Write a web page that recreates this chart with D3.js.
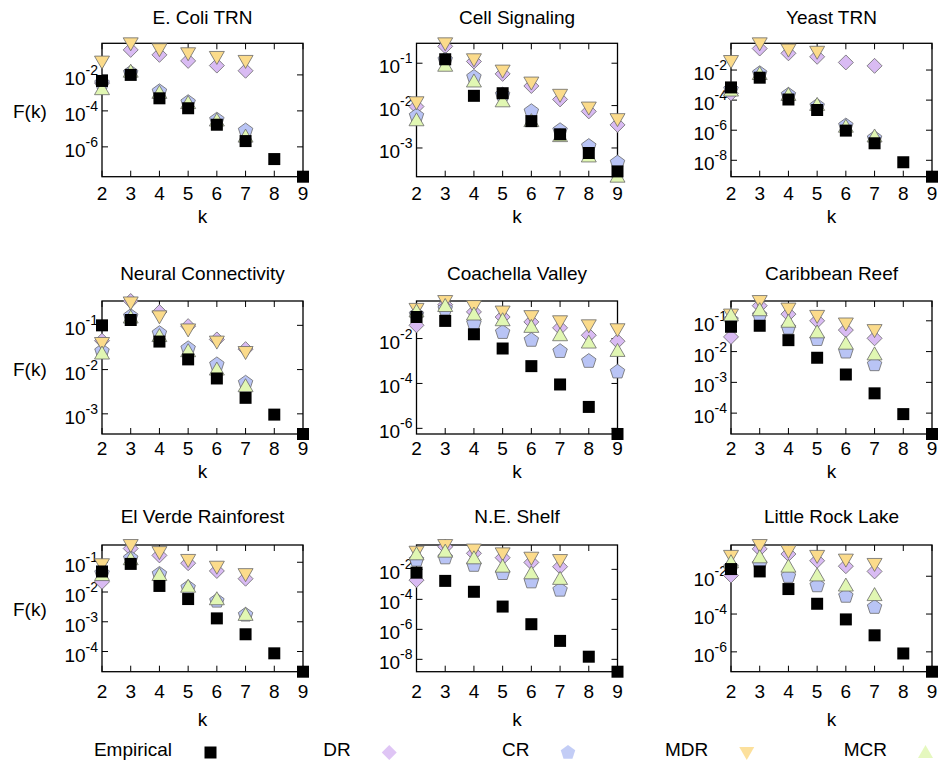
<!DOCTYPE html>
<html>
<head>
<meta charset="utf-8">
<script src="https://cdn.jsdelivr.net/npm/d3@7"></script>
<style>
body { margin: 0; background: #fff; }
text { font-family: "Liberation Sans", Arial, Helvetica, sans-serif; fill: #000; }
</style>
</head>
<body>
<svg id="chart" width="938" height="764"></svg>
<script>
// k = 2..9 for every series, null where the point is absent
var kValues = [2, 3, 4, 5, 6, 7, 8, 9];

var panelTitles = ["E. Coli TRN", "Cell Signaling", "Yeast TRN",
		"Neural Connectivity", "Coachella Valley", "Caribbean Reef",
		"El Verde Rainforest", "N.E. Shelf", "Little Rock Lake"];

// labelled decades on each y axis
var tickExponents = [[-2, -4, -6], [-1, -2, -3], [-2, -4, -6, -8],
		[-1, -2, -3], [-2, -4, -6], [-1, -2, -3, -4],
		[-1, -2, -3, -4], [-2, -4, -6, -8], [-2, -4, -6]];

var empirical = [
	[4.6e-3, 1.0e-2, 5.0e-4, 1.4e-4, 1.7e-5, 2.1e-6, 2.1e-7, 2.2e-8],
	[null, 0.124, 0.017, 0.0196, 4.3e-3, 2.1e-3, 7.6e-4, 2.8e-4],
	[7.0e-4, 3.1e-3, 1.1e-4, 2.2e-5, 9.4e-7, 1.35e-7, 7.4e-9, 8.1e-10],
	[0.1, 0.132, 0.043, 0.017, 6.3e-3, 2.3e-3, 9.6e-4, 3.5e-4],
	[0.091, 0.061, 0.0155, 3.6e-3, 5.9e-4, 9.0e-5, 9.0e-6, 5.6e-7],
	[0.064, 0.069, 0.0235, 6.3e-3, 1.8e-3, 4.4e-4, 9.3e-5, 2.1e-5],
	[0.049, 0.088, 0.016, 5.8e-3, 1.3e-3, 3.8e-4, 8.7e-5, 2.1e-5],
	[6.0e-3, 1.7e-3, 3.2e-4, 3.3e-5, 2.2e-6, 1.7e-7, 1.5e-8, 1.5e-9],
	[0.024, 0.018, 2.1e-3, 3.5e-4, 5.2e-5, 7.5e-6, 8.2e-7, 8.9e-8]
];

var dr = [
	[3.5e-3, 0.245, 0.13, 0.06, 0.033, 0.017, null, null],
	[9.5e-3, 0.25, 0.11, 0.056, 0.029, 0.014, 7.3e-3, 3.5e-3],
	[2.8e-4, 0.27, 0.13, 0.076, 0.032, 0.019, null, null],
	[0.045, 0.355, 0.2, 0.096, 0.048, 0.029, null, null],
	[0.039, 0.32, 0.154, 0.091, 0.055, 0.03, 0.014, 7.6e-3],
	[0.03, 0.31, 0.165, 0.1, 0.05, 0.027, null, null],
	[0.022, 0.29, 0.17, 0.093, 0.051, 0.028, null, null],
	[1.9e-3, 0.32, 0.117, 0.06, 0.029, 0.015, null, null],
	[0.011, 0.28, 0.15, 0.066, 0.034, 0.018, null, null]
];

var cr = [
	[3.5e-3, 1.3e-2, 1.2e-3, 3.0e-4, 3.2e-5, 8.0e-6, null, null],
	[5.7e-3, 0.12, 0.047, 0.018, 7.3e-3, 2.6e-3, 1.1e-3, 4.5e-4],
	[5.2e-4, 6.0e-3, 2.2e-4, 4.0e-5, 2.0e-6, 2.9e-7, null, null],
	[0.026, 0.16, 0.066, 0.03, 0.013, 5.0e-3, null, null],
	[0.117, 0.21, 0.047, 0.019, 8.5e-3, 2.7e-3, 9.8e-4, 3.3e-4],
	[0.105, 0.15, 0.059, 0.025, 9.8e-3, 3.8e-3, null, null],
	[0.043, 0.135, 0.04, 0.014, 5.0e-3, 1.7e-3, null, null],
	[0.042, 0.06, 0.019, 5.4e-3, 1.5e-3, 4.2e-4, null, null],
	[0.03, 0.045, 0.01, 3.2e-3, 8.9e-4, 2.3e-4, null, null]
];

var mdr = [
	[0.055, 0.57, 0.27, 0.16, 0.1, 0.06, null, null],
	[0.012, 0.295, 0.124, 0.067, 0.035, 0.018, 9.0e-3, 4.8e-3],
	[0.04, 0.6, 0.23, 0.165, null, null, null, null],
	[0.04, 0.33, 0.16, 0.081, 0.043, 0.025, null, null],
	[0.21, 0.47, 0.28, 0.16, 0.1, 0.059, 0.039, 0.026],
	[0.16, 0.44, 0.25, 0.145, 0.082, 0.05, null, null],
	[0.086, 0.38, 0.22, 0.12, 0.071, 0.04, null, null],
	[0.15, 0.42, 0.21, 0.117, 0.06, 0.042, null, null],
	[0.12, 0.45, 0.22, 0.12, 0.076, 0.045, null, null]
];

var mcr = [
	[1.6e-3, 1.5e-2, 1.0e-3, 2.7e-4, 2.9e-5, 3.7e-6, null, null],
	[4.5e-3, 0.087, 0.037, 0.0126, 4.3e-3, 1.9e-3, 6.3e-4, 2.1e-4],
	[4.3e-4, 5.4e-3, 2.2e-4, 4.8e-5, 1.7e-6, 3.8e-7, null, null],
	[0.023, 0.15, 0.057, 0.026, 0.01, 4.2e-3, null, null],
	[0.16, 0.28, 0.117, 0.065, 0.033, 0.014, 6.6e-3, 2.8e-3],
	[0.15, 0.22, 0.093, 0.042, 0.018, 8.1e-3, null, null],
	[0.037, 0.126, 0.037, 0.015, 5.7e-3, 1.7e-3, null, null],
	[0.1, 0.15, 0.054, 0.015, 5.4e-3, 2.3e-3, null, null],
	[0.055, 0.1, 0.032, 0.011, 3.2e-3, 1.0e-3, null, null]
];

var seriesNames = ["Empirical", "DR", "CR", "MDR", "MCR"];

// ---- layout ----
var COL_LEFT = [102, 416.5, 731];
var PLOT_W = 201;
var ROW_TOP = [43.3, 301, 545];
var ROW_BOTTOM = [176.7, 434, 671.7];
var TITLE_BASE = [24, 280, 523];
var XLABEL_BASE = [200, 455, 698];
var KLABEL_BASE = [223, 478, 726];
var TICK = 6;

// marker shapes, centred on 0,0
function squarePath(h) {
	return "M" + (-h) + "," + (-h) + "H" + h + "V" + h + "H" + (-h) + "Z";
}
function diamondPath(r) {
	return "M0," + (-r) + "L" + r + ",0L0," + r + "L" + (-r) + ",0Z";
}
function pentagonPath(r) {
	var pts = d3.range(5).map(function(i) {
		var a = -Math.PI / 2 + i * 2 * Math.PI / 5;
		return [r * Math.cos(a), r * Math.sin(a)];
	});
	return "M" + pts.join("L") + "Z";
}
function triUpPath(w, h) {
	return "M0," + (-h * 0.58) + "L" + w + "," + (h * 0.42) + "L" + (-w) + "," + (h * 0.42) + "Z";
}
function triDownPath(w, h) {
	return "M0," + (h * 0.58) + "L" + w + "," + (-h * 0.42) + "L" + (-w) + "," + (-h * 0.42) + "Z";
}

var styles = {
	Empirical : { path : squarePath(6), fill : "#000", stroke : "none" },
	DR : { path : diamondPath(7.5), fill : "#d9bbf3", stroke : "#6a6a6a" },
	CR : { path : pentagonPath(7.6), fill : "#b9c4f5", stroke : "#6a6a6a" },
	MDR : { path : triDownPath(7.5, 13), fill : "#fbdb8b", stroke : "#6a6a6a" },
	MCR : { path : triUpPath(7.5, 13), fill : "#e1f7b3", stroke : "#6a6a6a" }
};
var seriesData = { Empirical : empirical, DR : dr, CR : cr, MDR : mdr, MCR : mcr };
// drawing order: empirical on top
var drawOrder = ["DR", "CR", "MDR", "MCR", "Empirical"];

var svg = d3.select("#chart");

function drawPanel(p) {
	var row = Math.floor(p / 3), col = p % 3;
	var left = COL_LEFT[col], right = left + PLOT_W;
	var top = ROW_TOP[row], bottom = ROW_BOTTOM[row];

	var all = [];
	seriesNames.forEach(function(s) {
		seriesData[s][p].forEach(function(v) { if (v != null) all.push(v); });
	});

	var x = d3.scaleLinear().domain([2, 9]).range([left, right]);
	var y = d3.scaleLog().domain(d3.extent(all)).range([bottom, top]);

	var g = svg.append("g").attr("class", "panel");

	// ticks on all four sides, pointing inwards
	var yTicks = tickExponents[p].map(function(e) { return Math.pow(10, e); });
	g.selectAll("line.xt").data(kValues).enter().append("line")
		.attr("x1", function(d) { return x(d); }).attr("x2", function(d) { return x(d); })
		.attr("y1", bottom).attr("y2", bottom - TICK)
		.attr("stroke", "#000").attr("stroke-width", 1);
	g.selectAll("line.xt2").data(kValues).enter().append("line")
		.attr("x1", function(d) { return x(d); }).attr("x2", function(d) { return x(d); })
		.attr("y1", top).attr("y2", top + TICK)
		.attr("stroke", "#000").attr("stroke-width", 1);
	g.selectAll("line.yt").data(yTicks).enter().append("line")
		.attr("x1", left).attr("x2", left + TICK)
		.attr("y1", function(d) { return y(d); }).attr("y2", function(d) { return y(d); })
		.attr("stroke", "#000").attr("stroke-width", 1);
	g.selectAll("line.yt2").data(yTicks).enter().append("line")
		.attr("x1", right).attr("x2", right - TICK)
		.attr("y1", function(d) { return y(d); }).attr("y2", function(d) { return y(d); })
		.attr("stroke", "#000").attr("stroke-width", 1);

	g.append("rect")
		.attr("x", left).attr("y", top)
		.attr("width", right - left).attr("height", bottom - top)
		.attr("fill", "none").attr("stroke", "#000").attr("stroke-width", 1.3);

	// x tick labels
	g.selectAll("text.xl").data(kValues).enter().append("text")
		.attr("x", function(d) { return x(d); })
		.attr("y", XLABEL_BASE[row])
		.attr("text-anchor", "middle")
		.style("font-size", "19px")
		.text(function(d) { return d; });

	// y tick labels, 10^e
	var yl = g.selectAll("text.yl").data(tickExponents[p]).enter().append("text")
		.attr("x", left - 4)
		.attr("y", function(e) { return y(Math.pow(10, e)) + 10; })
		.attr("text-anchor", "end")
		.style("font-size", "19px");
	yl.append("tspan").text("10");
	yl.append("tspan").attr("dy", -10).style("font-size", "14px")
		.text(function(e) { return "-" + Math.abs(e); });

	g.append("text")
		.attr("x", (left + right) / 2).attr("y", TITLE_BASE[row])
		.attr("text-anchor", "middle").style("font-size", "19px")
		.text(panelTitles[p]);

	g.append("text")
		.attr("x", (left + right) / 2).attr("y", KLABEL_BASE[row])
		.attr("text-anchor", "middle").style("font-size", "19px")
		.text("k");

	if (col == 0) {
		g.append("text")
			.attr("x", 13).attr("y", (top + bottom) / 2 + 8)
			.style("font-size", "19px")
			.text("F(k)");
	}

	// points
	drawOrder.forEach(function(s) {
		var st = styles[s];
		var pts = seriesData[s][p].map(function(v, i) {
			return { k : kValues[i], v : v };
		}).filter(function(d) { return d.v != null; });
		g.selectAll("path." + s).data(pts).enter().append("path")
			.attr("class", s)
			.attr("d", st.path)
			.attr("transform", function(d) {
				return "translate(" + x(d.k) + "," + y(d.v) + ")";
			})
			.attr("fill", st.fill)
			.attr("stroke", st.stroke)
			.attr("stroke-width", 0.8);
	});
}// END: drawPanel

d3.range(9).forEach(drawPanel);

// legend along the bottom
var legendX = d3.scalePoint().domain(seriesNames).range([172, 887]);
var legend = svg.append("g").attr("class", "legend");
seriesNames.forEach(function(s) {
	var lx = legendX(s);
	legend.append("text")
		.attr("x", lx).attr("y", 755.5)
		.attr("text-anchor", "end").style("font-size", "19px")
		.text(s);
	legend.append("path")
		.attr("d", styles[s].path)
		.attr("transform", "translate(" + (lx + 38.5) + ",752.5)")
		.attr("fill", styles[s].fill)
		.attr("opacity", s == "Empirical" ? 1 : 0.85);
});
</script>
</body>
</html>
